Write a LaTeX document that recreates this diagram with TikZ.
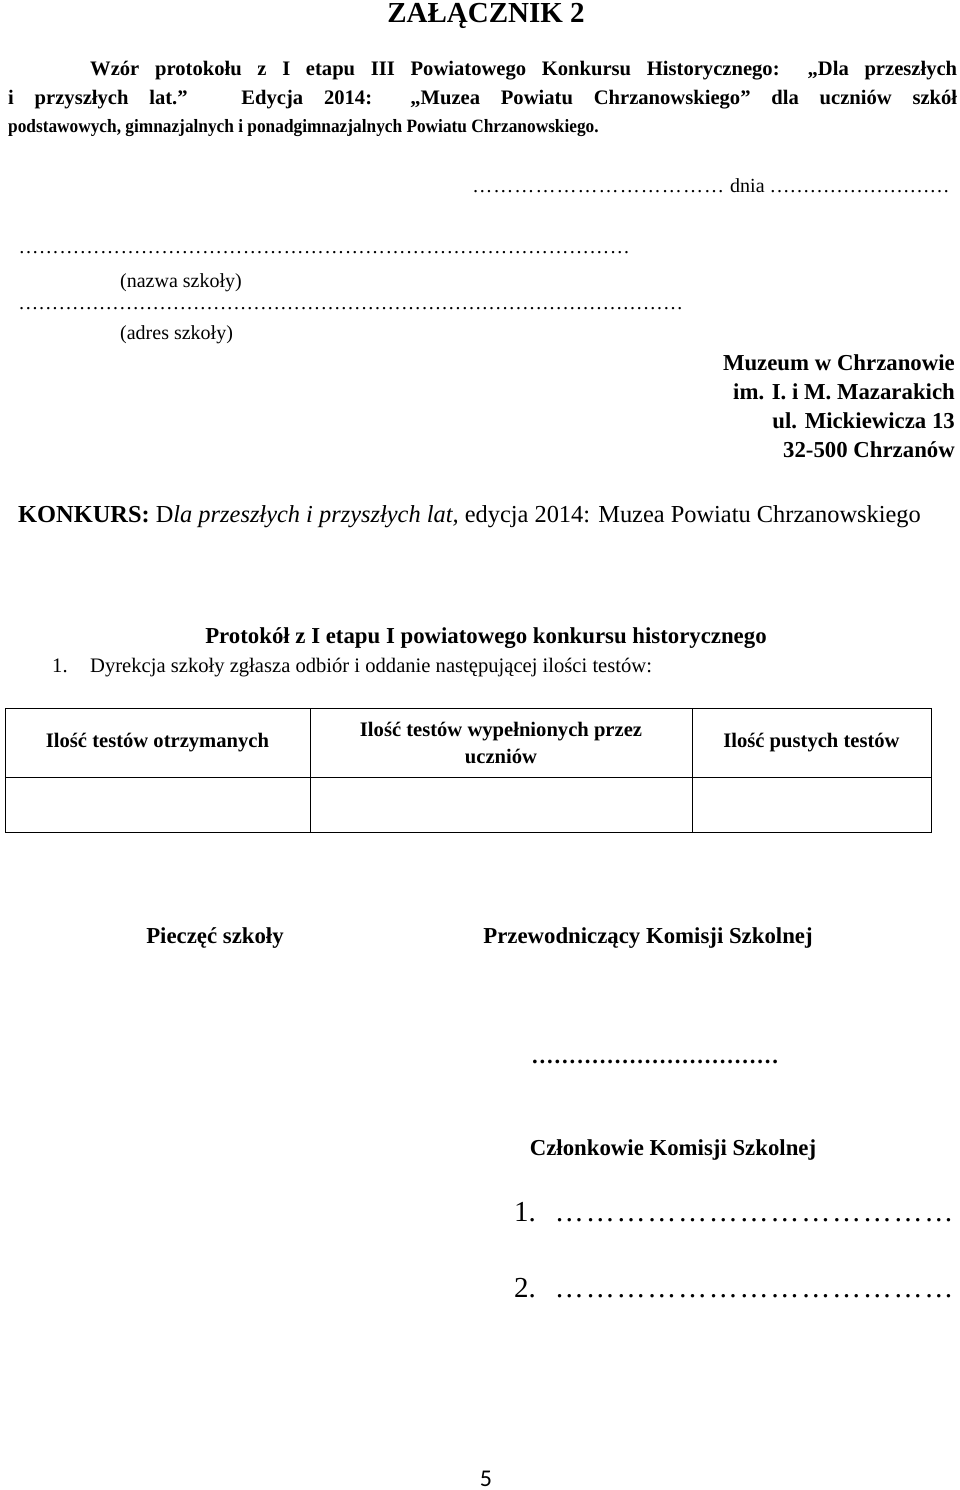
\documentclass[tikz,border=0pt]{standalone}
\usepackage{fontspec}
\setmainfont{Liberation Serif}
\newfontfamily\waski[FakeStretch=0.92]{Liberation Serif}
\newfontfamily\pagefont{Carlito}
\newcommand\kropki[2][…]{\hbox to #2{\xleaders\hbox{#1}\hfill}}
\tikzset{
    txt/.style={inner sep=0pt, font=\fontsize{20}{29}\selectfont},
    hd/.style={inner sep=0pt, font=\fontsize{20.6}{29}\selectfont\bfseries},
    bx/.style={inner sep=0pt, font=\fontsize{22.8}{29}\selectfont\bfseries},
    cell/.style={draw, line width=1pt, inner sep=0pt, align=center,
        font=\fontsize{20.6}{27}\selectfont\bfseries},
}
\begin{document}
\begin{tikzpicture}[x=1pt,y=-1pt]
    \useasboundingbox[fill=white] (0,0) rectangle (960,1490);
    %% heading
    \node[inner sep=0pt, font=\fontsize{29}{30}\selectfont\bfseries, anchor=base] (zal) at (486,23) {ZAŁĄCZNIK 2};
    \node[hd, anchor=base west] (wz1) at (90,76) {\makebox[867pt][s]{Wzór protokołu z I etapu III Powiatowego Konkursu Historycznego: „Dla przeszłych}};
    \node[hd, anchor=base west] (wz2) at (8,105) {\makebox[949pt][s]{i przyszłych lat.” Edycja 2014: „Muzea Powiatu Chrzanowskiego” dla uczniów szkół}};
    \node[hd, font=\waski\fontsize{18.8}{29}\selectfont\bfseries, anchor=base west] (wz3) at (8,133) {podstawowych, gimnazjalnych i ponadgimnazjalnych Powiatu Chrzanowskiego.};
    %% school data
    \node[txt, anchor=base west] (dnia) at (471,193) {\kropki{254pt}\ dnia\ \kropki{180pt}};
    \node[txt, anchor=base west] (nazwadots) at (18,253) {\kropki{612pt}};
    \node[txt, anchor=base west] (nazwa) at (120,287) {(nazwa szkoły)};
    \node[txt, anchor=base west] (adresdots) at (18,309) {\kropki{665pt}};
    \node[txt, anchor=base west] (adres) at (120,339) {(adres szkoły)};
    %% museum address
    \node[bx, anchor=base east] (muz1) at (955,370) {Muzeum w Chrzanowie};
    \node[bx, anchor=base east] (muz2) at (955,399) {im. I. i M. Mazarakich};
    \node[bx, anchor=base east] (muz3) at (955,428) {ul. Mickiewicza 13};
    \node[bx, anchor=base east] (muz4) at (955,457) {32-500 Chrzanów};
    \node[inner sep=0pt, font=\fontsize{24.4}{29}\selectfont, anchor=base west] (konk) at (18,522) {\textbf{KONKURS:} D\textit{la przeszłych i przyszłych lat,} edycja 2014: Muzea Powiatu Chrzanowskiego};
    %% protocol
    \node[bx, anchor=base] (prot) at (486,643) {Protokół z I etapu I powiatowego konkursu historycznego};
    \node[txt, font=\fontsize{20.6}{29}\selectfont, anchor=base west] (pkt1) at (52,672) {1.};
    \node[txt, font=\fontsize{20.6}{29}\selectfont, anchor=base west] (dyr) at (90,672) {Dyrekcja szkoły zgłasza odbiór i oddanie następującej ilości testów:};
    %% table
    \node[cell, minimum width=305pt, minimum height=69pt] (h1) at (157.5,742.5) {Ilość testów otrzymanych};
    \node[cell, minimum width=382pt, minimum height=69pt] (h2) at (501,742.5) {Ilość testów wypełnionych przez\\uczniów};
    \node[cell, minimum width=239pt, minimum height=69pt] (h3) at (811.5,742.5) {Ilość pustych testów};
    \node[cell, minimum width=305pt, minimum height=55pt] (c1) at (157.5,804.5) {};
    \node[cell, minimum width=382pt, minimum height=55pt] (c2) at (501,804.5) {};
    \node[cell, minimum width=239pt, minimum height=55pt] (c3) at (811.5,804.5) {};
    %% signatures
    \node[bx, anchor=base] (piecz) at (215,943) {Pieczęć szkoły};
    \node[bx, anchor=base] (przew) at (648,943) {Przewodniczący Komisji Szkolnej};
    \node[bx, anchor=base west] (przewdots) at (531,1063) {\kropki[\hbox to 7.3pt{\hss.\hss}]{248pt}};
    \node[bx, anchor=base] (czl) at (673,1155) {Członkowie Komisji Szkolnej};
    \foreach \n/\y in {1/1221,2/1297} {
        \node[inner sep=0pt, font=\fontsize{29}{32}\selectfont, anchor=base west] (czl\n) at (514,\y) {\n.};
        \node[inner sep=0pt, font=\fontsize{29}{32}\selectfont, anchor=base west] (czldots\n) at (553,\y) {\kropki{402pt}};
    }
    \node[inner sep=0pt, font=\pagefont\fontsize{24}{24}\selectfont, anchor=base] (strona) at (486,1486) {5};
\end{tikzpicture}
\end{document}
